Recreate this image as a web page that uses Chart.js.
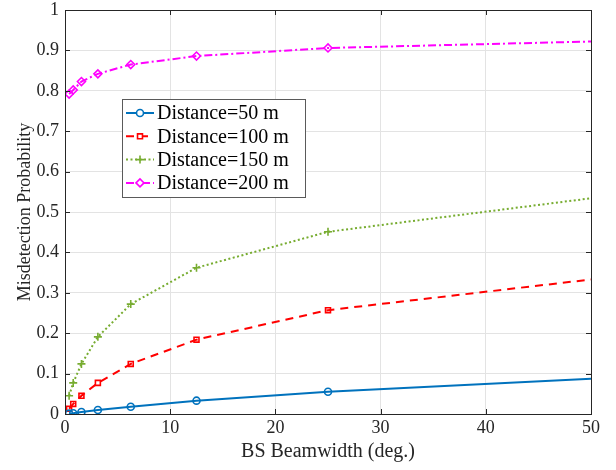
<!DOCTYPE html>
<html>
<head>
<meta charset="utf-8">
<script src="https://cdn.jsdelivr.net/npm/chart.js/dist/chart.umd.min.js"></script>
<style>
  html, body { margin: 0; padding: 0; background: #fff; }
  #wrap { width: 616px; height: 470px; position: relative; }
</style>
</head>
<body>
<div id="wrap"><canvas id="myChart"></canvas></div>
<script>
// Datos
const beamwidth = [0.39, 0.78, 1.5625, 3.125, 6.25, 12.5, 25, 50];
const dist50  = [0.001, 0.002, 0.005, 0.010, 0.018, 0.033, 0.055, 0.087];
const dist100 = [0.013, 0.025, 0.045, 0.077, 0.124, 0.184, 0.257, 0.333];
const dist150 = [0.045, 0.077, 0.124, 0.191, 0.272, 0.362, 0.451, 0.534];
const dist200 = [0.792, 0.802, 0.823, 0.842, 0.865, 0.886, 0.906, 0.922];
const seriesNames = ['Distance=50 m', 'Distance=100 m', 'Distance=150 m', 'Distance=200 m'];
const xTicks = [0, 10, 20, 30, 40, 50];
const yTicks = [0, 0.1, 0.2, 0.3, 0.4, 0.5, 0.6, 0.7, 0.8, 0.9, 1];

Chart.defaults.font.family = "'Liberation Serif', 'Times New Roman', serif";
Chart.defaults.color = '#262626';

const pts = arr => arr.map((v, i) => ({ x: beamwidth[i], y: v }));

const styles = [
  { color: '#0072BD', dash: [], pointStyle: 'circle', radius: 3.5 },
  { color: '#FF0000', dash: [8, 6], pointStyle: 'rect', radius: 3.5 },
  { color: '#77AC30', dash: [2, 2.5], pointStyle: 'cross', radius: 4 },
  { color: '#FF00FF', dash: [8, 3, 2, 3], pointStyle: 'rectRot', radius: 4 }
];
const allData = [dist50, dist100, dist150, dist200];

const datasets = allData.map((d, i) => ({
  label: seriesNames[i],
  data: pts(d),
  borderColor: styles[i].color,
  backgroundColor: '#fff',
  pointBorderColor: styles[i].color,
  pointBackgroundColor: 'rgba(255,255,255,0)',
  borderWidth: 2,
  pointBorderWidth: 1.6,
  borderDash: styles[i].dash,
  pointStyle: styles[i].pointStyle,
  // el ultimo punto (x=50) queda sin marcador, como en la figura
  pointRadius: ctx => (ctx.raw && ctx.raw.x >= 50) ? 0 : styles[i].radius,
  tension: 0
}));

// caja, ticks interiores y leyenda
const boxPlugin = {
  id: 'boxPlugin',
  afterDraw(chart) {
    const c = chart.ctx, a = chart.chartArea;
    const xs = chart.scales.x, ys = chart.scales.y;
    c.save();
    c.strokeStyle = '#262626';
    c.lineWidth = 1;
    c.strokeRect(Math.round(a.left) + 0.5, Math.round(a.top) + 0.5, Math.round(a.right - a.left), Math.round(a.bottom - a.top));
    c.beginPath();
    xTicks.forEach(t => {
      const px = Math.round(xs.getPixelForValue(t)) + 0.5;
      c.moveTo(px, a.bottom); c.lineTo(px, a.bottom - 5);
      c.moveTo(px, a.top); c.lineTo(px, a.top + 5);
    });
    yTicks.forEach(t => {
      const py = Math.round(ys.getPixelForValue(t)) + 0.5;
      c.moveTo(a.left, py); c.lineTo(a.left + 5, py);
      c.moveTo(a.right, py); c.lineTo(a.right - 5, py);
    });
    c.stroke();

    // leyenda
    const lx = 122, ly = 99, lw = 183, lh = 98;
    c.fillStyle = '#fff';
    c.fillRect(lx, ly, lw, lh);
    c.strokeStyle = '#5a5a5a';
    c.strokeRect(lx + 0.5, ly + 0.5, lw, lh);
    c.font = "20px 'Liberation Serif', serif";
    c.textBaseline = 'middle';
    seriesNames.forEach((name, i) => {
      const y = ly + 14 + i * 23.3;
      const s = styles[i];
      c.strokeStyle = s.color;
      c.lineWidth = 2;
      c.setLineDash(s.dash);
      c.beginPath(); c.moveTo(lx + 4, y); c.lineTo(lx + 32, y); c.stroke();
      c.setLineDash([]);
      c.lineWidth = 1.6;
      c.fillStyle = '#fff';
      Chart.helpers.drawPoint(c, { pointStyle: s.pointStyle, radius: s.radius, rotation: 0, borderWidth: 1.6 }, lx + 18, y);
      c.fillStyle = '#000';
      c.fillText(name, lx + 35, y + 1);
    });
    c.restore();
  }
};

const config = {
  type: 'line',
  data: { datasets },
  plugins: [boxPlugin],
  options: {
    responsive: true,
    maintainAspectRatio: false,
    animation: false,
    layout: { padding: { top: 10, right: 25, left: 0, bottom: 0 } },
    plugins: { legend: { display: false }, tooltip: { enabled: false } },
    scales: {
      x: {
        type: 'linear', min: 0, max: 50,
        afterBuildTicks: s => { s.ticks = xTicks.map(v => ({ value: v })); },
        afterFit: s => { s.height = 56; s.paddingLeft = 0; s.paddingRight = 0; },
        grid: { color: '#e3e3e3', drawTicks: false },
        border: { display: false },
        ticks: { font: { size: 18 }, color: '#262626', padding: 3, maxRotation: 0 },
        title: { display: true, text: 'BS Beamwidth (deg.)', font: { size: 20 }, color: '#262626', padding: { top: 0, bottom: 6 } }
      },
      y: {
        min: 0, max: 1,
        afterBuildTicks: s => { s.ticks = yTicks.map(v => ({ value: v })); },
        afterFit: s => { s.width = 65; s.paddingTop = 0; s.paddingBottom = 0; },
        grid: { color: '#e3e3e3', drawTicks: false },
        border: { display: false },
        ticks: { font: { size: 18 }, color: '#262626', padding: 6, callback: v => String(Math.round(v * 10) / 10) },
        title: { display: true, text: 'Misdetection Probability', font: { size: 18 }, color: '#262626', padding: { top: 14, bottom: 0 } }
      }
    }
  }
};

const myChart = new Chart(document.getElementById('myChart').getContext('2d'), config);
</script>
</body>
</html>
